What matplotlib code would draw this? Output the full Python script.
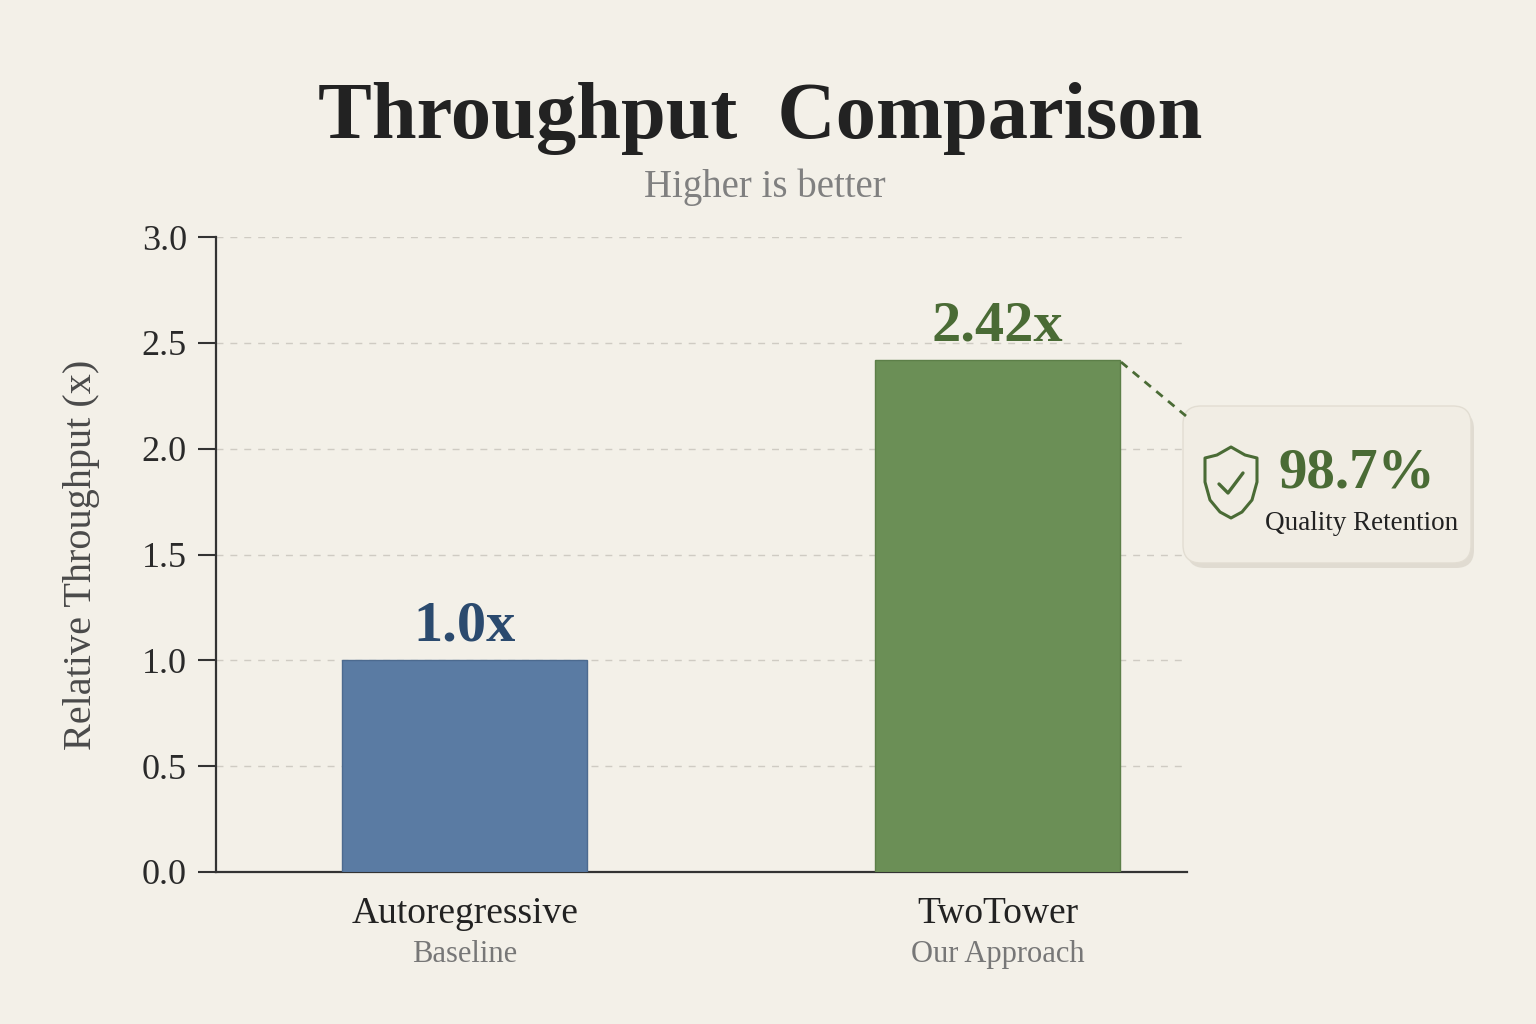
import matplotlib.pyplot as plt
from matplotlib.patches import FancyBboxPatch, Polygon
from matplotlib.lines import Line2D

# data
methods = ['Autoregressive', 'TwoTower']
subtitles = ['Baseline', 'Our Approach']
throughput = [1.0, 2.42]
bar_labels = ['1.0x', '2.42x']
yticks = [0.0, 0.5, 1.0, 1.5, 2.0, 2.5, 3.0]
quality = '98.7%'

bg = '#f3f0e8'
barColors = ['#5a7ba3', '#6b8f56']
labelColors = ['#2b4a6e', '#4a6b35']
serif = ['Liberation Serif', 'DejaVu Serif']

plt.rcParams['font.family'] = serif

fig = plt.figure(figsize=(15.36, 10.24), dpi=100, facecolor=bg)
ax = fig.add_axes([216/1536, 1 - 872/1024, (1187 - 216)/1536, (872 - 237)/1024])
ax.set_facecolor('none')

x = list(range(len(methods)))
ax.bar(x, throughput, width=0.46, color=barColors, edgecolor=['#4c6a8f', '#5c7f48'], linewidth=1, zorder=3)
for i in x:
    ax.text(i, throughput[i] + 0.035, bar_labels[i], ha='center', va='bottom',
            fontsize=42, fontweight='bold', color=labelColors[i], zorder=4)

ax.set_xlim(-0.467, 1.355)
ax.set_ylim(0, 3.0)
ax.set_yticks(yticks)
ax.set_yticklabels(['%.1f' % v for v in yticks], fontsize=26, color='#2a2a2a')
ax.set_xticks(x)
ax.set_xticklabels([])
ax.tick_params(axis='y', length=13, width=1.5, color='#333333', pad=8)
ax.tick_params(axis='x', length=0)
ax.grid(axis='y', linestyle=(0, (5, 5)), color='#cfcbc3', linewidth=1, zorder=0)
for s in ['top', 'right']:
    ax.spines[s].set_visible(False)
for s in ['left', 'bottom']:
    ax.spines[s].set_color('#333333')
    ax.spines[s].set_linewidth(1.6)
ax.set_ylabel('Relative Throughput (x)', fontsize=29, color='#4a4a4a', labelpad=30)

for i in x:
    ax.text(i, -0.115, methods[i], ha='center', va='top', fontsize=27, color='#222222')
    ax.text(i, -0.32, subtitles[i], ha='center', va='top', fontsize=22, color='#777777')

fig.text(0.495, 0.884, 'Throughput  Comparison', ha='center', va='center',
         fontsize=58, fontweight='bold', color='#222222')
fig.text(0.498, 0.817, 'Higher is better', ha='center', va='center',
         fontsize=28, color='#808080')

# overlay in pixel coords for callout
ov = fig.add_axes([0, 0, 1, 1], zorder=5)
ov.set_xlim(0, 1536)
ov.set_ylim(1024, 0)
ov.axis('off')
ov.patch.set_alpha(0)

ov.add_line(Line2D([1121, 1186], [362, 416], color='#4a6b35', linestyle=(0, (3, 2.5)), linewidth=2))
shadow = FancyBboxPatch((1187, 411), 287, 157, boxstyle='round,pad=0,rounding_size=18',
                        facecolor='#d8d3c8', edgecolor='none', alpha=0.7)
ov.add_patch(shadow)
box = FancyBboxPatch((1183, 406), 288, 157, boxstyle='round,pad=0,rounding_size=18',
                     facecolor='#f1ede4', edgecolor='#e2ddd2', linewidth=1)
ov.add_patch(box)

shield = Polygon([(1231, 447), (1245, 455), (1257, 458), (1257, 482), (1252, 500),
                  (1242, 512), (1231, 518), (1220, 512), (1210, 500), (1205, 482),
                  (1205, 458), (1217, 455)], closed=True, facecolor='none',
                 edgecolor='#4a6b35', linewidth=2.2, joinstyle='round')
ov.add_patch(shield)
ov.plot([1219, 1228, 1243], [484, 493, 473], color='#4a6b35', linewidth=2.4,
        solid_capstyle='round', solid_joinstyle='round')

ov.text(1278, 474, quality, ha='left', va='center', fontsize=41, fontweight='bold', color='#4a6b35')
ov.text(1265, 523, 'Quality Retention', ha='left', va='center', fontsize=19.5, color='#222222')

fig.savefig('out.png', dpi=100, facecolor=bg)
